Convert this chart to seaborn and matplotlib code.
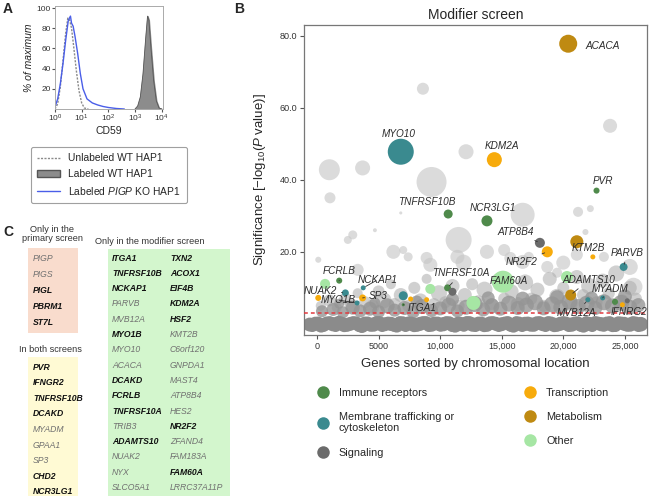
"""
modifier_screen.py

Flow histogram, modifier-screen bubble plot and gene overlap table.
"""

from __future__ import annotations

import matplotlib

matplotlib.use("Agg")
import matplotlib.pyplot as plt
import numpy as np
import pandas as pd
import seaborn as sns
from matplotlib.lines import Line2D
from matplotlib.patches import Patch, Rectangle
from matplotlib.ticker import FixedLocator, FormatStrFormatter

# ---- panel A: CD59 histograms (log10 CD59, % of max) ----
unlabeled_log = [0.0, 0.1, 0.2, 0.3, 0.4, 0.48, 0.55, 0.62, 0.7, 0.8, 0.9, 1.0, 1.1, 1.25]
unlabeled_pct = [0, 5, 22, 48, 75, 90, 88, 80, 62, 38, 18, 6, 1, 0]
pigp_log = [0.0, 0.1, 0.2, 0.3, 0.4, 0.5, 0.58, 0.62, 0.68, 0.75, 0.85, 0.95, 1.05, 1.2,
            1.4, 1.6, 1.8, 2.0, 2.3, 2.6]
pigp_pct = [2, 10, 25, 45, 68, 88, 92, 85, 82, 72, 55, 35, 20, 10, 6, 4, 2.5, 1.5, 0.5, 0]
wt_log = [3.0, 3.1, 3.2, 3.3, 3.4, 3.47, 3.52, 3.6, 3.7, 3.8, 3.9, 4.0]
wt_pct = [0, 3, 12, 35, 70, 92, 88, 60, 28, 8, 1, 0]

# ---- panel B: modifier screen ----
band_x = [-600, -140, 330, 800, 1270, 1750, 2210, 2700, 3160, 3640, 4100, 4590, 5050, 5530,
          6000, 6470, 6950, 7420, 7890, 8370, 8840, 9310, 9790, 10260, 10740, 11210, 11680,
          12160, 12630, 13110, 13580, 14050, 14530, 15000, 15480, 15950, 16420, 16900, 17370,
          17850, 18320, 18790, 19270, 19740, 20220, 20690, 21160, 21640, 22110, 22590, 23060,
          23530, 24010, 24480, 24960, 25430, 25900, 26300,
          -380, 90, 560, 1030, 1510, 1980, 2450, 2930, 3400, 3870, 4350, 4820, 5290, 5770,
          6240, 6710, 7190, 7660, 8130, 8600, 9080, 9550, 10030, 10500, 10970, 11450, 11920,
          12390, 12870, 13340, 13820, 14290, 14760, 15240, 15710, 16190, 16660, 17130, 17610,
          18080, 18560, 19030, 19500, 19980, 20450, 20930, 21400, 21870, 22350, 22820, 23290,
          23770, 24240, 24720, 25190, 25670, 26100]
band_y = [-0.2, 0.1, -0.4, 0.2, -0.1, 0.3, -0.3, 0.0, 0.2, -0.5, 0.1, -0.2, 0.3, -0.1, 0.0,
          -0.4, 0.2, 0.1, -0.3, 0.0, 0.3, -0.2, 0.1, -0.1, 0.2, -0.4, 0.0, 0.3, -0.2, 0.1,
          -0.3, 0.2, 0.0, -0.1, 0.3, -0.4, 0.1, 0.0, -0.2, 0.2, -0.1, 0.3, -0.3, 0.0, 0.1,
          -0.2, 0.2, -0.4, 0.0, 0.3, -0.1, 0.1, -0.3, 0.2, 0.0, -0.2, 0.1, -0.1,
          -0.6, 0.4, -0.5, 0.5, -0.6, 0.4, -0.5, 0.5, -0.6, 0.4, -0.5, 0.5, -0.6, 0.4, -0.5,
          0.5, -0.6, 0.4, -0.5, 0.5, -0.6, 0.4, -0.5, 0.5, -0.6, 0.4, -0.5, 0.5, -0.6, 0.4,
          -0.5, 0.5, -0.6, 0.4, -0.5, 0.5, -0.6, 0.4, -0.5, 0.5, -0.6, 0.4, -0.5, 0.5, -0.6,
          0.4, -0.5, 0.5, -0.6, 0.4, -0.5, 0.5, -0.6, 0.4, -0.5, 0.5, -0.6]
band_score = [100, 95, 110, 92, 104, 98, 108, 100, 94, 112, 100, 106, 92, 100, 104, 110, 96,
              100, 108, 102, 92, 106, 98, 104, 96, 112, 100, 92, 106, 98, 108, 96, 102, 100,
              92, 112, 98, 104, 106, 96, 100, 92, 108, 102, 98, 106, 96, 112, 100, 92, 104,
              98, 108, 96, 102, 106, 98, 110,
              75, 70, 78, 72, 75, 70, 78, 72, 75, 70, 78, 72, 75, 70, 78, 72, 75, 70, 78, 72,
              75, 70, 78, 72, 75, 70, 78, 72, 75, 70, 78, 72, 75, 70, 78, 72, 75, 70, 78, 72,
              75, 70, 78, 72, 75, 70, 78, 72, 75, 70, 78, 72, 75, 70, 78, 72, 75]

# dense mass just above the threshold line
mass_x = [400, 1300, 2100, 2900, 3500, 4300, 5000, 5700, 6300, 7100, 7800, 8500, 9300,
          10000, 10700, 11400, 12100, 12800, 13500, 14200, 14900, 15600, 16300, 17000, 17700,
          18400, 19100, 19800, 20500, 21200, 21900, 22600, 23300, 24000, 24700, 25400, 26100,
          1800, 4700, 8100, 11000, 13900, 16700, 19500, 22300, 25000]
mass_y = [3.5, 4.0, 3.2, 4.5, 3.6, 4.2, 3.4, 5.0, 3.8, 4.4, 3.3, 4.8, 3.7, 4.3, 5.2, 3.6,
          4.6, 5.5, 4.0, 5.0, 4.2, 5.6, 4.4, 5.2, 6.0, 4.3, 5.4, 4.6, 6.2, 4.8, 5.6, 4.4, 6.0,
          5.0, 5.8, 4.6, 5.2, 5.6, 5.8, 6.2, 6.8, 7.2, 7.0, 7.4, 7.2, 7.6]
mass_score = [75, 88, 75, 102, 88, 102, 88, 117, 88, 102, 88, 117, 88, 102, 117, 88, 117,
              133, 102, 117, 102, 133, 102, 117, 133, 102, 133, 117, 133, 117, 133, 102, 133,
              117, 133, 117, 102, 52, 63, 75, 88, 88, 102, 102, 88, 102]

cloud_x = [300, 1000, 1600, 2300, 2800, 3300, 3900, 4500, 5000, 5400, 6000, 6300, 6800, 7400,
           7900, 8400, 8900, 9500, 9900, 10400, 11000, 11500, 12000, 12600, 13100, 13600,
           14200, 14700, 15200, 15800, 16300, 16900, 17400, 17900, 18400, 18900, 19500, 20000,
           20600, 21100, 21600, 22100, 22700, 23200, 23700, 24300, 24800, 25400, 25900]
cloud_y = [5.0, 6.5, 4.5, 7.0, 5.0, 8.5, 6.0, 4.8, 9.0, 6.5, 11.0, 5.5, 8.0, 5.0, 10.0, 6.5,
           12.5, 5.5, 8.5, 6.0, 10.5, 5.0, 8.0, 11.0, 6.0, 9.5, 5.5, 12.0, 7.0, 9.0, 5.5,
           11.5, 7.0, 9.5, 5.0, 12.5, 7.5, 10.0, 5.5, 13.0, 8.0, 10.5, 6.0, 12.0, 8.5, 14.0,
           6.5, 10.0, 7.0]
cloud_score = [52, 75, 52, 75, 102, 52, 75, 102, 75, 133, 52, 75, 102, 75, 75, 102, 52, 75,
               133, 75, 102, 75, 102, 75, 102, 133, 75, 102, 75, 102, 102, 133, 75, 102, 75,
               102, 133, 75, 102, 102, 75, 133, 75, 102, 75, 133, 75, 102, 75]

light_x = [8600, 23800, 12100, 1000, 3700, 9300, 1050, 6800, 16700, 21200, 22200, 11500,
           2900, 2500, 6200, 7400, 11400, 4700, 15700, 17200, 19500, 21800, 25700, 13800,
           15200, 8900, 7000, 21100, 20000, 23300, 25400, 100, 9200, 11900, 16700, 18700, 3300]
light_y = [65.3, 55.0, 47.8, 42.8, 43.3, 39.4, 35.0, 30.8, 30.3, 31.1, 32.0, 23.3, 24.7,
           23.3, 20.0, 18.6, 18.6, 26.0, 18.3, 18.6, 14.2, 25.5, 10.3, 20.0, 20.5, 18.3,
           20.5, 19.2, 17.0, 18.6, 15.8, 17.8, 16.4, 17.0, 17.2, 15.8, 15.0]
light_score = [75, 102, 117, 228, 117, 466, 63, 5, 298, 52, 25, 350, 42, 33, 102, 42, 102,
               8, 75, 52, 52, 19, 168, 102, 75, 75, 33, 75, 102, 52, 133, 19, 102, 133, 102,
               75, 75]

hit_gene = ["ACACA", "MYO10", "KDM2A", "PVR", "TNFRSF10B", "NCR3LG1", "ATP8B4", "NR2F2", "",
            "KTM2B", "PARVB", "FAM60A", "TNFRSF10A", "", "", "", "", "FCRLB", "NUAK2", "",
            "NCKAP1", "SP3", "MYO1B", "", "ITGA1", "", "", "ADAMTS10", "MVB12A", "MYADM",
            "IFNRG2", "", "", ""]
hit_x = [20400, 6800, 14400, 22700, 10650, 13800, 18100, 18700, 21100, 22400, 24900, 15100,
         10600, 11000, 12700, 9200, 650, 1800, 2300, 100, 3750, 3700, 3250, 7000, 7000, 7600,
         8900, 20600, 22000, 23200, 24200, 24800, 25200, 20300]
hit_y = [77.8, 47.8, 45.6, 37.0, 30.5, 28.6, 22.5, 20.0, 22.8, 18.6, 15.8, 11.7, 10.0, 8.9,
         5.8, 9.7, 11.1, 12.0, 8.6, 7.2, 10.0, 7.2, 5.8, 7.8, 5.3, 6.9, 6.7, 8.0, 6.7, 7.2,
         6.1, 5.3, 6.4, 13.0]
hit_score = [168, 350, 117, 19, 42, 63, 52, 63, 88, 13, 33, 251, 25, 33, 102, 52, 52, 19, 25,
             19, 13, 25, 13, 42, 5, 13, 13, 63, 13, 13, 19, 13, 13, 75]
hit_cat = ["Metabolism", "Membrane", "Transcription", "Immune", "Immune", "Immune",
           "Signaling", "Transcription", "Metabolism", "Transcription", "Membrane", "Other",
           "Immune", "Signaling", "Other", "Other", "Other", "Immune", "Membrane",
           "Transcription", "Membrane", "Transcription", "Membrane", "Membrane", "Immune",
           "Transcription", "Transcription", "Metabolism", "Membrane", "Membrane", "Immune",
           "Transcription", "Signaling", "Other"]

category_names = {
    "Immune": "Immune receptors",
    "Membrane": "Membrane trafficking or\ncytoskeleton",
    "Signaling": "Signaling",
    "Transcription": "Transcription",
    "Metabolism": "Metabolism",
    "Other": "Other",
}
palette = {
    "Immune": "#4f8a4b",
    "Membrane": "#3a8a8f",
    "Signaling": "#6b6b6b",
    "Transcription": "#f7ab0c",
    "Metabolism": "#bf8a12",
    "Other": "#a6e6a4",
}

x_ticks = [0, 5000, 10000, 15000, 20000, 25000]
x_tick_labels = ["0", "5000", "10,000", "15,000", "20,000", "25,000"]
threshold = 3.0

# ---- panel C: gene lists ----
primary_genes = ["PIGP", "PIGS", "PIGL", "PBRM1", "ST7L"]
primary_bold = [False, False, True, True, True]
both_genes = ["PVR", "IFNGR2", "TNFRSF10B", "DCAKD", "MYADM", "GPAA1", "SP3", "CHD2", "NCR3LG1"]
both_bold = [True, True, True, True, False, False, False, True, True]
modifier_col1 = ["ITGA1", "TNFRSF10B", "NCKAP1", "PARVB", "MVB12A", "MYO1B", "MYO10", "ACACA",
                 "DCAKD", "FCRLB", "TNFRSF10A", "TRIB3", "ADAMTS10", "NUAK2", "NYX", "SLCO5A1"]
modifier_col1_bold = [True, True, True, False, False, True, False, False,
                      True, True, True, False, True, False, False, False]
modifier_col2 = ["TXN2", "ACOX1", "EIF4B", "KDM2A", "HSF2", "KMT2B", "C6orf120", "GNPDA1",
                 "MAST4", "ATP8B4", "HES2", "NR2F2", "ZFAND4", "FAM183A", "FAM60A", "LRRC37A11P"]
modifier_col2_bold = [True, True, True, True, True, False, False, False,
                      False, False, False, True, False, False, True, False]

SIZE_KW = dict(sizes=(0, 500), size_norm=(0, 500))


def plot_histograms(ax, fig):
    unl = pd.DataFrame({"cd59": np.power(10.0, unlabeled_log), "pct": unlabeled_pct})
    ko = pd.DataFrame({"cd59": np.power(10.0, pigp_log), "pct": pigp_pct})
    wt = pd.DataFrame({"cd59": np.power(10.0, wt_log), "pct": wt_pct})

    ax.fill_between(wt["cd59"], wt["pct"], color="#8c8c8c", zorder=1)
    sns.lineplot(data=wt, x="cd59", y="pct", ax=ax, color="#555555", lw=0.6)
    sns.lineplot(data=unl, x="cd59", y="pct", ax=ax, color="#8a8a8a", lw=1.0,
                 linestyle=(0, (1.5, 1)))
    sns.lineplot(data=ko, x="cd59", y="pct", ax=ax, color="#4a5ee8", lw=1.0)

    ax.set_xscale("log")
    ax.set_xlim(1, 10 ** 4.05)
    ax.set_ylim(0, 102)
    ax.set_yticks([20, 40, 60, 80, 100])
    ax.set_xticks([1, 10, 100, 1000, 10000])
    ax.minorticks_off()
    ax.tick_params(labelsize=6, length=2, pad=1, colors="#555555", labelcolor="#333333")
    ax.set_xlabel("CD59", fontsize=7.5, labelpad=1)
    ax.set_ylabel("% of maximum", fontsize=7.5, style="italic", labelpad=2)
    for sp in ax.spines.values():
        sp.set_color("#aaaaaa")
        sp.set_linewidth(0.7)

    handles = [
        Line2D([], [], color="#8a8a8a", lw=1.0, linestyle=(0, (1.5, 1))),
        Patch(facecolor="#8c8c8c", edgecolor="#555555"),
        Line2D([], [], color="#4a5ee8", lw=1.0),
    ]
    labels = ["Unlabeled WT HAP1", "Labeled WT HAP1", r"Labeled $\it{PIGP}$ KO HAP1"]
    leg = fig.legend(handles, labels, loc="upper center", bbox_to_anchor=(109 / 650, 1 - 142 / 496),
                     fontsize=7.4, frameon=True, fancybox=True, edgecolor="#888888",
                     handlelength=2.2, labelspacing=0.55, borderpad=0.6)
    leg.get_frame().set_linewidth(0.8)


def plot_screen(ax, fig):
    band = pd.DataFrame({"x": band_x, "y": band_y, "s": band_score})
    mass = pd.DataFrame({"x": mass_x, "y": mass_y, "s": mass_score})
    cloud = pd.DataFrame({"x": cloud_x, "y": cloud_y, "s": cloud_score})
    light = pd.DataFrame({"x": light_x, "y": light_y, "s": light_score})
    hits = pd.DataFrame({"gene": hit_gene, "x": hit_x, "y": hit_y, "s": hit_score, "cat": hit_cat})

    sns.scatterplot(data=light, x="x", y="y", size="s", ax=ax, color="#c8c8c8", alpha=0.65,
                    linewidth=0, legend=False, **SIZE_KW)
    sns.scatterplot(data=cloud, x="x", y="y", size="s", ax=ax, color="#ababab", alpha=0.55,
                    linewidth=0, legend=False, **SIZE_KW)
    sns.scatterplot(data=mass, x="x", y="y", size="s", ax=ax, color="#959595", alpha=0.8,
                    linewidth=0, legend=False, **SIZE_KW)
    sns.scatterplot(data=band, x="x", y="y", size="s", ax=ax, color="#8b8b8b", alpha=1.0,
                    linewidth=0, legend=False, **SIZE_KW)
    ax.axhline(threshold, color="#e0393e", lw=1.1, linestyle=(0, (2.5, 2)), zorder=3)
    sns.scatterplot(data=hits, x="x", y="y", size="s", hue="cat", palette=palette, ax=ax,
                    linewidth=0, legend=False, zorder=4, **SIZE_KW)

    # label placement: (text x, text y, draw leader line)
    label_pos = {
        "ACACA": (21800, 77.2, False), "MYO10": (6600, 52.8, False),
        "KDM2A": (15000, 49.5, False), "PVR": (23200, 39.8, False),
        "TNFRSF10B": (8900, 33.8, False), "NCR3LG1": (14300, 32.3, False),
        "ATP8B4": (16100, 25.6, True), "NR2F2": (16600, 17.2, True),
        "KTM2B": (22000, 21.2, False), "PARVB": (25200, 19.8, True),
        "FAM60A": (15600, 11.8, False), "TNFRSF10A": (11700, 14.0, True),
        "FCRLB": (1800, 14.8, True), "NCKAP1": (4900, 12.2, True),
        "NUAK2": (250, 9.2, True), "SP3": (5000, 7.8, True),
        "MYO1B": (1700, 6.6, True), "ITGA1": (8500, 4.5, True),
        "ADAMTS10": (22100, 12.3, True), "MYADM": (23800, 9.8, True),
        "MVB12A": (21100, 3.0, True), "IFNRG2": (25300, 3.3, False),
    }
    for gene, gx, gy in zip(hit_gene, hit_x, hit_y):
        if gene not in label_pos:
            continue
        tx, ty, leader = label_pos[gene]
        ha = "left" if gene == "ACACA" else "center"
        arrow = dict(arrowstyle="-", color="#333333", lw=0.6, shrinkA=1, shrinkB=2) if leader else None
        ax.annotate(gene, xy=(gx, gy), xytext=(tx, ty), ha=ha, va="center", fontsize=7.2,
                    style="italic", color="#2b2b2b", arrowprops=arrow, zorder=6)

    ax.set_xlim(-1060, 26800)
    ax.set_ylim(-3.1, 83)
    ax.xaxis.set_major_locator(FixedLocator(x_ticks))
    ax.set_xticklabels(x_tick_labels)
    ax.set_yticks([20, 40, 60, 80])
    ax.yaxis.set_major_formatter(FormatStrFormatter("%.1f"))
    ax.tick_params(labelsize=6.5, length=3, pad=2, colors="#555555", labelcolor="#333333")
    ax.set_title("Modifier screen", fontsize=10, pad=4)
    ax.set_xlabel("Genes sorted by chromosomal location", fontsize=9.5, labelpad=5)
    ax.set_ylabel(r"Significance [$-$log$_{10}$($\it{P}$ value)]", fontsize=9.5, labelpad=8)
    for sp in ax.spines.values():
        sp.set_color("#777777")
        sp.set_linewidth(0.9)

    order = ["Immune", "Membrane", "Signaling", "Transcription", "Metabolism", "Other"]
    handles = [Line2D([], [], marker="o", linestyle="", markersize=9, markeredgewidth=0,
                      color=palette[c]) for c in order]
    fig.legend(handles, [category_names[c] for c in order], ncol=2, loc="upper left",
               bbox_to_anchor=(302 / 650, 1 - 378 / 496), frameon=False, fontsize=7.8,
               handletextpad=0.5, columnspacing=6.0, labelspacing=1.3)


def draw_gene_block(ax, genes, bold, x, y0, step):
    for i, (g, b) in enumerate(zip(genes, bold)):
        ax.text(x, y0 + i * step, g, fontsize=6.2, style="italic",
                weight="bold" if b else "normal", color="#111111" if b else "#707070",
                va="center", ha="left")


def plot_gene_table(ax):
    ax.set_xlim(0, 235)
    ax.set_ylim(496, 215)
    ax.axis("off")
    ax.add_patch(Rectangle((28, 248), 50, 85, color="#f9dccd", lw=0))
    ax.add_patch(Rectangle((28, 357), 50, 140, color="#fffad4", lw=0))
    ax.add_patch(Rectangle((108, 249), 122, 248, color="#d3f6cd", lw=0))
    ax.text(52, 234, "Only in the\nprimary screen", ha="center", va="center", fontsize=6.6,
            color="#333333", linespacing=1.1)
    ax.text(50, 349, "In both screens", ha="center", va="center", fontsize=6.6, color="#333333")
    ax.text(150, 241, "Only in the modifier screen", ha="center", va="center", fontsize=6.6,
            color="#333333")
    draw_gene_block(ax, primary_genes, primary_bold, 33, 258, 16)
    draw_gene_block(ax, both_genes, both_bold, 33, 367, 15.6)
    draw_gene_block(ax, modifier_col1, modifier_col1_bold, 112, 258, 15.3)
    draw_gene_block(ax, modifier_col2, modifier_col2_bold, 170, 258, 15.3)


def main():
    sns.set_style("ticks")
    plt.rcParams["font.family"] = ["Liberation Sans", "DejaVu Sans"]
    plt.rcParams["mathtext.fontset"] = "custom"
    plt.rcParams["mathtext.rm"] = "Liberation Sans"
    plt.rcParams["mathtext.it"] = "Liberation Sans:italic"

    fig = plt.figure(figsize=(6.5, 4.96), dpi=100)
    ax_a = fig.add_axes([55 / 650, 1 - 109 / 496, 108 / 650, 103 / 496])
    ax_b = fig.add_axes([304 / 650, 1 - 335 / 496, 343 / 650, 310 / 496])
    ax_c = fig.add_axes([0, 0, 235 / 650, 281 / 496])

    plot_histograms(ax_a, fig)
    plot_screen(ax_b, fig)
    plot_gene_table(ax_c)

    for letter, (px, py) in {"A": (3, 9), "B": (234, 9), "C": (3, 232)}.items():
        fig.text(px / 650, 1 - py / 496, letter, fontsize=10, weight="bold", va="center")

    fig.savefig("out.png", dpi=100)


if __name__ == "__main__":
    main()
